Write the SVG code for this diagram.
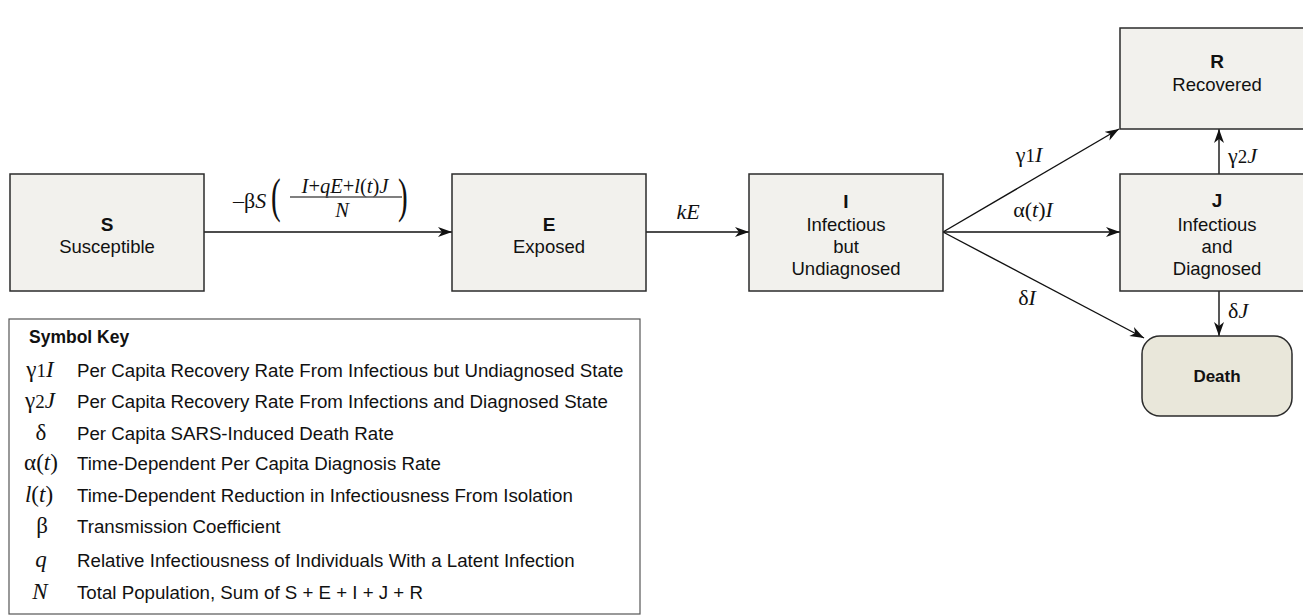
<svg xmlns="http://www.w3.org/2000/svg" width="1303" height="615" viewBox="0 0 1303 615">
<defs>
<marker id="ah" markerUnits="userSpaceOnUse" markerWidth="16" markerHeight="12" refX="14" refY="5" orient="auto">
<path d="M0,0 L14,5 L0,10 L4,5 z" fill="#111"/>
</marker>
<style>
.box{fill:#f2f1ed;stroke:#2b2b2b;stroke-width:1.5}
.death{fill:#e9e7da;stroke:#2b2b2b;stroke-width:1.5}
.hd{font-family:"Liberation Sans",Arial,sans-serif;font-weight:bold;font-size:19px;fill:#111;text-anchor:middle}
.sub{font-family:"Liberation Sans",Arial,sans-serif;font-size:18.5px;fill:#111;text-anchor:middle}
.edge{stroke:#111;stroke-width:1.4;fill:none;marker-end:url(#ah)}
.m{font-family:"Liberation Serif","Times New Roman",serif;font-size:22px;fill:#111}
.i{font-style:italic}
.key{font-family:"Liberation Sans",Arial,sans-serif;font-size:18.7px;fill:#111}
.sym{font-family:"Liberation Serif","Times New Roman",serif;font-size:23px;fill:#111;text-anchor:middle}
</style>
</defs>
<rect width="1303" height="615" fill="#fff"/>

<g id="connectors">
<line class="edge" x1="204" y1="232" x2="452" y2="232"/>
<line class="edge" x1="646" y1="232" x2="749" y2="232"/>
<line class="edge" x1="943" y1="232" x2="1120" y2="232"/>
<line class="edge" x1="943" y1="232" x2="1119" y2="129"/>
<line class="edge" x1="943" y1="232" x2="1144" y2="338"/>
<line class="edge" x1="1219" y1="174" x2="1219" y2="129"/>
<line class="edge" x1="1219" y1="291" x2="1219" y2="336"/>
<text class="m" x="233" y="208">–β<tspan class="i">S</tspan></text>
<text class="m" transform="translate(271,212) scale(1,1.7)" style="font-size:29px">(</text>
<text class="m" x="345" y="193" text-anchor="middle" style="font-size:20.5px"><tspan class="i">I</tspan>+<tspan class="i">qE</tspan>+<tspan class="i">l</tspan>(<tspan class="i">t</tspan>)<tspan class="i">J</tspan></text>
<line x1="290" y1="197" x2="402" y2="197" stroke="#555" stroke-width="1.3"/>
<text class="m i" x="342" y="217" text-anchor="middle" style="font-size:20.5px">N</text>
<text class="m" transform="translate(398,212) scale(1,1.7)" style="font-size:29px">)</text>
<text class="m i" x="688" y="219" text-anchor="middle">kE</text>
<text class="m" x="1029" y="162" text-anchor="middle">γ<tspan style="font-size:19px">1</tspan><tspan class="i">I</tspan></text>
<text class="m" x="1033" y="217" text-anchor="middle">α(<tspan class="i">t</tspan>)<tspan class="i">I</tspan></text>
<text class="m" x="1027" y="305" text-anchor="middle">δ<tspan class="i">I</tspan></text>
<text class="m" x="1228" y="163">γ<tspan style="font-size:19px">2</tspan><tspan class="i">J</tspan></text>
<text class="m" x="1228" y="318">δ<tspan class="i">J</tspan></text>
</g>

<g id="node-S">
<rect class="box" x="10" y="174" width="194" height="117"/>
<text class="hd" x="107" y="231">S</text>
<text class="sub" x="107" y="253">Susceptible</text>
</g>
<g id="node-E">
<rect class="box" x="452" y="174" width="194" height="117"/>
<text class="hd" x="549" y="231">E</text>
<text class="sub" x="549" y="253">Exposed</text>
</g>
<g id="node-I">
<rect class="box" x="749" y="174" width="194" height="117"/>
<text class="hd" x="846" y="208">I</text>
<text class="sub" x="846" y="231">Infectious</text>
<text class="sub" x="846" y="253">but</text>
<text class="sub" x="846" y="275">Undiagnosed</text>
</g>
<g id="node-R">
<rect class="box" x="1120" y="28" width="194" height="101"/>
<text class="hd" x="1217" y="68">R</text>
<text class="sub" x="1217" y="91">Recovered</text>
</g>
<g id="node-J">
<rect class="box" x="1120" y="174" width="194" height="117"/>
<text class="hd" x="1217" y="207">J</text>
<text class="sub" x="1217" y="231">Infectious</text>
<text class="sub" x="1217" y="253">and</text>
<text class="sub" x="1217" y="275">Diagnosed</text>
</g>
<g id="node-Death">
<rect class="death" x="1142" y="336" width="150" height="80" rx="18" ry="18"/>
<text class="hd" x="1217" y="382" style="font-size:17px">Death</text>
</g>

<g id="legend">
<rect x="9" y="319" width="631" height="295" fill="#fff" stroke="#555" stroke-width="1.2"/>
<text class="key" x="29" y="343" font-weight="bold" style="font-size:17.5px">Symbol Key</text>
<text class="sym" x="40" y="377">γ<tspan style="font-size:19px">1</tspan><tspan class="i">I</tspan></text>
<text class="key" x="77" y="377">Per Capita Recovery Rate From Infectious but Undiagnosed State</text>
<text class="sym" x="40" y="408">γ<tspan style="font-size:19px">2</tspan><tspan class="i">J</tspan></text>
<text class="key" x="77" y="408">Per Capita Recovery Rate From Infections and Diagnosed State</text>
<text class="sym" x="41" y="440">δ</text>
<text class="key" x="77" y="440">Per Capita SARS-Induced Death Rate</text>
<text class="sym" x="41" y="470">α(<tspan class="i">t</tspan>)</text>
<text class="key" x="77" y="470">Time-Dependent Per Capita Diagnosis Rate</text>
<text class="sym" x="39" y="502"><tspan class="i">l</tspan>(<tspan class="i">t</tspan>)</text>
<text class="key" x="77" y="502">Time-Dependent Reduction in Infectiousness From Isolation</text>
<text class="sym" x="42" y="533">β</text>
<text class="key" x="77" y="533">Transmission Coefficient</text>
<text class="sym i" x="41" y="567">q</text>
<text class="key" x="77" y="567">Relative Infectiousness of Individuals With a Latent Infection</text>
<text class="sym i" x="40" y="599">N</text>
<text class="key" x="77" y="599">Total Population, Sum of S + E + I + J + R</text>
</g>
</svg>
